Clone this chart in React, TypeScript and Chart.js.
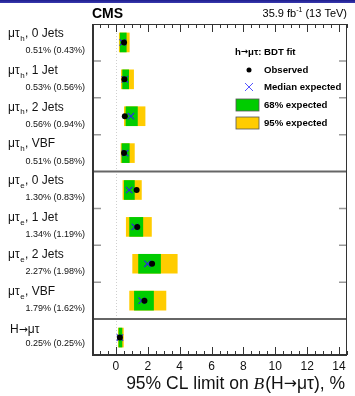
import React, { useEffect, useRef } from 'react';
import { Chart, registerables } from 'chart.js';

Chart.register(...registerables);

// ---- data ----
const labelMain = ['μτ', 'μτ', 'μτ', 'μτ', 'μτ', 'μτ', 'μτ', 'μτ', 'H→μτ'];
const labelSub = ['h', 'h', 'h', 'h', 'e', 'e', 'e', 'e', ''];
const labelRest = [', 0 Jets', ', 1 Jet', ', 2 Jets', ', VBF', ', 0 Jets', ', 1 Jet', ', 2 Jets', ', VBF', ''];
const categories = labelMain.map((m, i) => m + labelSub[i] + labelRest[i]);

const observed = [0.51, 0.53, 0.56, 0.51, 1.3, 1.34, 2.27, 1.79, 0.25];
const expected = [0.43, 0.56, 0.94, 0.58, 0.83, 1.19, 1.98, 1.62, 0.25];
const band68Low = [0.27, 0.42, 0.63, 0.38, 0.53, 0.86, 1.42, 1.16, 0.19];
const band68High = [0.65, 0.8, 1.35, 0.84, 1.16, 1.69, 2.8, 2.36, 0.38];
const band95Low = [0.21, 0.34, 0.53, 0.32, 0.44, 0.65, 1.05, 0.86, 0.15];
const band95High = [0.84, 1.11, 1.83, 1.16, 1.6, 2.23, 3.85, 3.14, 0.47];

const xTicks = [0, 2, 4, 6, 8, 10, 12, 14];
const xMin = -1.5;
const xMax = 14.5;
const separators = [4, 8];

const legendTitle = 'h→μτ: BDT fit';
const legendLabels = ['Observed', 'Median expected', '68% expected', '95% expected'];

const SANS = '"Liberation Sans", Arial, Helvetica, sans-serif';
const ARROW = '"DejaVu Sans", sans-serif';
const YELLOW = '#ffcc00';
const GREEN = '#00cc00';
const BLUE = '#2b2bdd';

// draw text, using a wider font for the arrow glyph; returns width
function drawText(ctx: any, text: string, x: number, y: number, font: string, size: number, doDraw = true) {
  const parts = text.split(/(→)/);
  let cx = x;
  parts.forEach((p) => {
    if (!p) return;
    if (p === '→') {
      ctx.font = font.replace('FAMILY', ARROW).replace('SIZE', String(size * 0.9));
    } else {
      ctx.font = font.replace('FAMILY', SANS).replace('SIZE', String(size));
    }
    if (doDraw) ctx.fillText(p, cx, y);
    cx += ctx.measureText(p).width;
  });
  return cx - x;
}

const decorPlugin = {
  id: 'decor',
  beforeDatasetsDraw(chart: any) {
    const { ctx, chartArea, scales } = chart;
    const x0 = scales.x.getPixelForValue(0);
    ctx.save();
    ctx.strokeStyle = '#cfcfcf';
    ctx.lineWidth = 1;
    ctx.setLineDash([1, 2]);
    ctx.beginPath();
    ctx.moveTo(Math.round(x0) + 0.5, chartArea.top);
    ctx.lineTo(Math.round(x0) + 0.5, chartArea.bottom);
    ctx.stroke();
    ctx.restore();
  },
  afterDraw(chart: any) {
    const { ctx, chartArea, scales } = chart;
    const xs = scales.x;
    const ys = scales.y;
    const { left, right, top, bottom } = chartArea;
    ctx.save();

    // row boundaries
    for (let k = 1; k < categories.length; k++) {
      const y = ys.getPixelForValue(k - 0.5);
      if (separators.includes(k)) {
        ctx.strokeStyle = '#666';
        ctx.lineWidth = 2;
        ctx.beginPath();
        ctx.moveTo(left, y);
        ctx.lineTo(right, y);
        ctx.stroke();
      } else {
        ctx.strokeStyle = '#999';
        ctx.lineWidth = 1.5;
        ctx.beginPath();
        ctx.moveTo(left, y);
        ctx.lineTo(left + 9, y);
        ctx.moveTo(right, y);
        ctx.lineTo(right - 8, y);
        ctx.stroke();
      }
    }

    // frame
    ctx.strokeStyle = '#333';
    ctx.lineWidth = 1;
    ctx.beginPath();
    ctx.moveTo(left, top + 0.5);
    ctx.lineTo(right, top + 0.5);
    ctx.moveTo(right - 0.5, top);
    ctx.lineTo(right - 0.5, bottom);
    ctx.stroke();
    ctx.lineWidth = 2;
    ctx.beginPath();
    ctx.moveTo(left + 1, top);
    ctx.lineTo(left + 1, bottom);
    ctx.moveTo(left, bottom - 1);
    ctx.lineTo(right, bottom - 1);
    ctx.stroke();

    // x ticks (major every 2, minor every 0.5)
    ctx.strokeStyle = '#333';
    ctx.lineWidth = 1;
    ctx.beginPath();
    for (let v = xMin; v <= xMax + 1e-6; v += 0.5) {
      const px = Math.round(xs.getPixelForValue(v)) + 0.5;
      const major = xTicks.includes(Math.round(v * 100) / 100);
      const len = major ? 8 : 4;
      ctx.moveTo(px, bottom - 1);
      ctx.lineTo(px, bottom - 1 - len);
      ctx.moveTo(px, top);
      ctx.lineTo(px, top + len);
    }
    ctx.stroke();

    // tick labels
    ctx.fillStyle = '#111';
    ctx.font = `12px ${SANS}`;
    ctx.textAlign = 'center';
    ctx.textBaseline = 'middle';
    xTicks.forEach((t) => {
      ctx.fillText(String(t), xs.getPixelForValue(t), bottom + 11);
    });

    // row labels
    categories.forEach((_, i) => {
      const cy = ys.getPixelForValue(i);
      const last = i === categories.length - 1;
      const ly = cy - (last ? 7.5 : 9);
      ctx.textAlign = 'left';
      ctx.textBaseline = 'middle';
      ctx.fillStyle = '#111';
      let x = last ? 10 : 8;
      x += drawText(ctx, labelMain[i], x, ly, 'SIZEpx FAMILY', 12);
      if (labelSub[i]) {
        ctx.font = `8px ${SANS}`;
        ctx.fillText(labelSub[i], x + 0.5, ly + 5);
        x += ctx.measureText(labelSub[i]).width + 1;
      }
      if (labelRest[i]) drawText(ctx, labelRest[i], x, ly, 'SIZEpx FAMILY', 12);

      ctx.font = `9px ${SANS}`;
      ctx.textAlign = 'right';
      ctx.fillText(
        `${observed[i].toFixed(2)}% (${expected[i].toFixed(2)}%)`,
        85,
        cy + (last ? 6 : 8)
      );
    });

    // CMS + lumi
    ctx.textBaseline = 'middle';
    ctx.textAlign = 'left';
    ctx.font = `bold 14px ${SANS}`;
    ctx.fillStyle = '#000';
    ctx.fillText('CMS', left, 14);

    ctx.font = `11px ${SANS}`;
    const p1 = '35.9 fb';
    const sup = '-1';
    const p2 = ' (13 TeV)';
    const w1 = ctx.measureText(p1).width;
    const w2 = ctx.measureText(p2).width;
    ctx.font = `7px ${SANS}`;
    const ws = ctx.measureText(sup).width;
    let lx = right - (w1 + ws + w2);
    ctx.font = `11px ${SANS}`;
    ctx.fillText(p1, lx, 14);
    lx += w1;
    ctx.font = `7px ${SANS}`;
    ctx.fillText(sup, lx, 10);
    lx += ws;
    ctx.font = `11px ${SANS}`;
    ctx.fillText(p2, lx, 14);

    // legend
    ctx.fillStyle = '#000';
    ctx.textAlign = 'left';
    drawText(ctx, legendTitle, 235, 52, 'bold SIZEpx FAMILY', 9.6);
    const ly0 = [70, 87, 105, 123];
    const mx = 249;
    // observed
    ctx.beginPath();
    ctx.arc(mx, ly0[0], 2.5, 0, Math.PI * 2);
    ctx.fill();
    // median
    ctx.strokeStyle = '#5555ff';
    ctx.lineWidth = 1;
    ctx.beginPath();
    ctx.moveTo(mx - 4, ly0[1] - 4);
    ctx.lineTo(mx + 4, ly0[1] + 4);
    ctx.moveTo(mx + 4, ly0[1] - 4);
    ctx.lineTo(mx - 4, ly0[1] + 4);
    ctx.stroke();
    // boxes
    ctx.fillStyle = GREEN;
    ctx.fillRect(236, ly0[2] - 6, 23, 12);
    ctx.strokeStyle = '#555';
    ctx.lineWidth = 0.8;
    ctx.strokeRect(236, ly0[2] - 6, 23, 12);
    ctx.fillStyle = YELLOW;
    ctx.fillRect(236, ly0[3] - 6, 23, 12);
    ctx.strokeRect(236, ly0[3] - 6, 23, 12);
    ctx.fillStyle = '#000';
    ctx.font = `bold 9.6px ${SANS}`;
    legendLabels.forEach((t, i) => ctx.fillText(t, 264, ly0[i]));

    // axis title
    const ay = bottom + 28;
    const a1 = '95% CL limit on ';
    const aB = 'B';
    const a2 = '(H→μτ), %';
    const fs = 17.5;
    ctx.font = `${fs}px ${SANS}`;
    const wa1 = ctx.measureText(a1).width;
    const wa2 = drawText(ctx, a2, 0, 0, 'SIZEpx FAMILY', fs, false);
    ctx.font = `italic ${fs}px "Liberation Serif", "Times New Roman", serif`;
    const wb = ctx.measureText(aB).width;
    let ax = right - 2 - (wa1 + wb + wa2 + 1);
    ctx.fillStyle = '#111';
    ctx.font = `${fs}px ${SANS}`;
    ctx.fillText(a1, ax, ay);
    ax += wa1;
    ctx.font = `italic ${fs}px "Liberation Serif", "Times New Roman", serif`;
    ctx.fillText(aB, ax, ay);
    ax += wb + 1;
    drawText(ctx, a2, ax, ay, 'SIZEpx FAMILY', fs);

    ctx.restore();
  },
};

export default function App() {
  const canvasRef = useRef<HTMLCanvasElement | null>(null);

  useEffect(() => {
    document.body.style.margin = '0';
    const canvas = canvasRef.current;
    if (!canvas) return;
    const chart = new Chart(canvas, {
      type: 'bar',
      data: {
        labels: categories,
        datasets: [
          {
            type: 'bar',
            label: '95% expected',
            indexAxis: 'y',
            data: band95Low.map((l, i) => [l, band95High[i]]),
            backgroundColor: YELLOW,
            borderWidth: 0,
            grouped: false,
            barThickness: 19,
            order: 3,
          } as any,
          {
            type: 'bar',
            label: '68% expected',
            indexAxis: 'y',
            data: band68Low.map((l, i) => [l, band68High[i]]),
            backgroundColor: GREEN,
            borderWidth: 0,
            grouped: false,
            barThickness: 19,
            order: 2,
          } as any,
          {
            type: 'scatter',
            label: 'Median expected',
            data: expected.map((v, i) => ({ x: v, y: categories[i] })),
            pointStyle: 'crossRot',
            pointRadius: 4.5,
            borderColor: BLUE,
            borderWidth: 1.2,
            order: 1,
          } as any,
          {
            type: 'scatter',
            label: 'Observed',
            data: observed.map((v, i) => ({ x: v, y: categories[i] })),
            pointStyle: 'circle',
            pointRadius: 3,
            backgroundColor: '#000',
            borderColor: '#000',
            borderWidth: 0,
            order: 0,
          } as any,
        ],
      },
      options: {
        responsive: false,
        animation: false,
        devicePixelRatio: 1,
        layout: { padding: { left: 92, right: 8, top: 24, bottom: 40 } },
        scales: {
          x: { type: 'linear', min: xMin, max: xMax, offset: false, display: false },
          y: { type: 'category', labels: categories, offset: true, display: false },
        },
        plugins: {
          legend: { display: false },
          tooltip: { enabled: false },
          title: { display: false },
        },
      } as any,
      plugins: [decorPlugin],
    });
    return () => chart.destroy();
  }, []);

  return (
    <div style={{ position: 'fixed', left: 0, top: 0, width: 355, height: 396, background: '#fff' }}>
      <div
        style={{
          position: 'absolute',
          left: 0,
          top: 0,
          width: 355,
          height: 3,
          background: 'linear-gradient(#1c1c8c, #3a3ab0)',
        }}
      />
      <canvas ref={canvasRef} width={355} height={396} style={{ display: 'block' }} />
    </div>
  );
}
